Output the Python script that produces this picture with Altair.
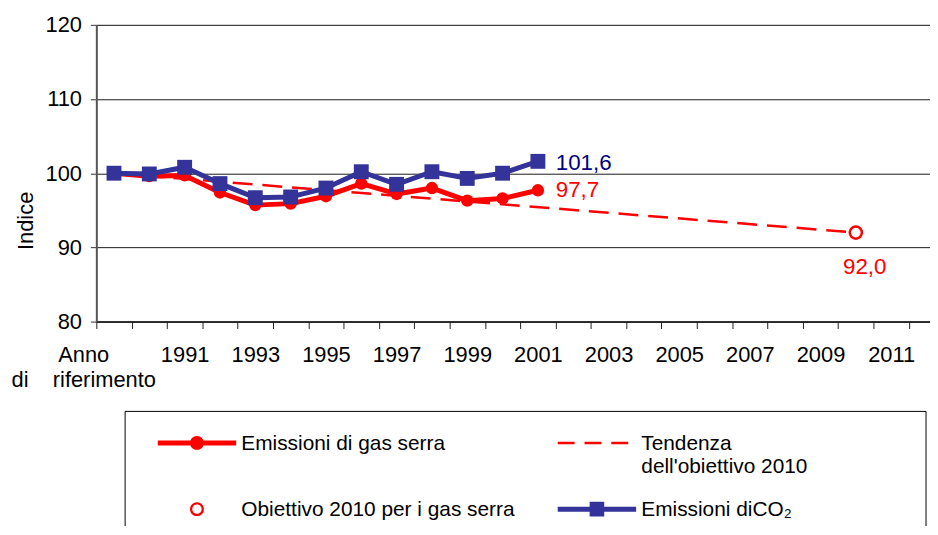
import json
import altair as alt
import pandas as pd

# ---------------- data ----------------
categories = ["base", "1990", "1991", "1992", "1993", "1994", "1995", "1996",
              "1997", "1998", "1999", "2000", "2001", "2002", "2003", "2004",
              "2005", "2006", "2007", "2008", "2009", "2010", "2011"]
tick_labels = ["Anno|di\u00a0\u00a0\u00a0\u00a0riferimento", "", "1991", "", "1993", "",
               "1995", "", "1997", "", "1999", "", "2001", "", "2003", "",
               "2005", "", "2007", "", "2009", "", "2011"]

emis_years = ["base", "1990", "1991", "1992", "1993", "1994", "1995", "1996",
              "1997", "1998", "1999", "2000", "2001"]
gas_values = [100.0, 99.6, 99.7, 97.4, 95.7, 95.9, 96.9, 98.6, 97.2, 98.0, 96.3, 96.6, 97.7]
co2_values = [100.0, 99.9, 100.8, 98.6, 96.7, 96.8, 98.0, 100.2, 98.5, 100.2, 99.3, 100.0, 101.6]

trend_years = ["base", "2010"]
trend_values = [100.0, 92.0]

target_years = ["2010"]
target_values = [92.0]

GAS = "Emissioni di gas serra"
TREND = "Tendenza|dell'obiettivo 2010"
TARGET = "Obiettivo 2010 per i gas serra"
CO2 = "Emissioni diCO\u2082"
# legend order (filled column by column: gas, target | trend, co2)
series_names = [GAS, TARGET, TREND, CO2]
series_colors = ["#FF0000", "#FF0000", "#FF0000", "#333399"]

ann_co2 = "101,6"
ann_gas = "97,7"
ann_target = "92,0"

gas_df = pd.DataFrame({"cat": emis_years, "value": gas_values, "series": GAS})
co2_df = pd.DataFrame({"cat": emis_years, "value": co2_values, "series": CO2})
trend_df = pd.DataFrame({"cat": trend_years, "value": trend_values, "series": TREND})
target_df = pd.DataFrame({"cat": target_years, "value": target_values, "series": TARGET})
# legend carrier rows (kept outside the y domain, clipped away)
legend_df = pd.DataFrame({"cat": ["base"] * 4, "value": [0.0] * 4, "series": series_names})

FONT = "Liberation Sans"


def q(v):
    return json.dumps(v)


x_label_expr = (f"indexof({q(categories)}, datum.value) < 0 ? '' : "
                f"split({q(tick_labels)}[indexof({q(categories)}, datum.value)], '|')")

x_enc = alt.X(
    "cat:O",
    scale=alt.Scale(domain=categories, paddingInner=0, paddingOuter=0.3, align=0),
    axis=alt.Axis(
        title=None, labelExpr=x_label_expr, labelAngle=0, tickBand="extent",
        tickSize=7, tickColor="#222222", tickWidth=1,
        domainColor="#111111", domainWidth=1.5,
        labelPadding=16, labelFontSize=22, labelLineHeight=25, labelBaseline="top",
        labelOverlap=False, labelBound=False, labelFont=FONT, labelColor="#000000",
        labelOffset={"condition": {"test": "datum.value == 'base'", "value": -31}, "value": 0},
        grid=False,
    ),
)

y_enc = alt.Y(
    "value:Q",
    scale=alt.Scale(domain=[80, 120], nice=False, zero=False),
    axis=alt.Axis(
        values=[80, 90, 100, 110, 120], title="Indice", grid=True,
        gridColor="#1a1a1a", gridWidth=1,
        domainColor="#555555", domainWidth=2,
        tickColor="#333333", tickSize=6, labelPadding=9,
        labelFontSize=22, labelFont=FONT, labelColor="#000000",
        titleFontSize=22, titleFont=FONT, titleFontWeight="normal", titleColor="#000000",
        titleAngle=270, titleX=-71, titleY=197, titleBaseline="middle", titleAlign="center",
    ),
)

color_scale = alt.Scale(domain=series_names, range=series_colors)

# legend symbols as filled outlines (unit = 10.5 px), shifted down to the first label line;
# the trailing zero-length segment in column-2 symbols widens the legend box
sym_paths = [
    # gas: thick line + dot
    "M-3.762,0.81H3.762V1.286H-3.762Z"
    "M-0.667,1.048A0.667,0.667,0,1,1,0.667,1.048A0.667,0.667,0,1,1,-0.667,1.048Z",
    # target: ring
    "M-0.667,1.048A0.667,0.667,0,1,1,0.667,1.048A0.667,0.667,0,1,1,-0.667,1.048Z"
    "M-0.448,1.048A0.448,0.448,0,1,0,0.448,1.048A0.448,0.448,0,1,0,-0.448,1.048Z",
    # trend: three dashes
    "M-3.762,0.929H-2.143V1.167H-3.762Z"
    "M-1.190,0.929H0.429V1.167H-1.190Z"
    "M1.381,0.929H3.0V1.167H1.381Z"
    "M30.5,1H30.5",
    # co2: thick line + square
    "M-3.762,0.81H3.762V1.286H-3.762Z"
    "M-0.7,0.348H0.7V1.748H-0.7Z"
    "M30.5,1H30.5",
]

legend = alt.Legend(
    title=None, orient="none", legendX=28.5, legendY=389,
    columns=2, columnPadding=20, rowPadding=11, padding=10.5,
    strokeColor="#000000", fillColor="#FFFFFF",
    labelFontSize=21, labelFont=FONT, labelColor="#000000",
    labelExpr=("indexof(datum.label, '|') >= 0 ? split(datum.label, '|') "
               ": [datum.label, '\u00a0']"),
    labelBaseline="line-top", labelLimit=0,
    symbolSize=441, symbolStrokeWidth=0, symbolOpacity=1,
    symbolOffset=51.9, labelOffset=34.2,
)

legend_layer = alt.Chart(legend_df).mark_point(clip=True, opacity=1, filled=True).encode(
    x=x_enc, y=y_enc,
    color=alt.Color("series:N", scale=color_scale, legend=legend),
    shape=alt.Shape("series:N", scale=alt.Scale(domain=series_names, range=sym_paths), legend=legend),
)


def color_enc():
    return alt.Color("series:N", scale=color_scale, legend=None)


trend_line = alt.Chart(trend_df).mark_line(
    strokeDash=[20, 10], strokeWidth=2.5
).encode(x=x_enc, y=y_enc, color=color_enc())

gas_line = alt.Chart(gas_df).mark_line(strokeWidth=5, strokeJoin="round").encode(
    x=x_enc, y=y_enc, color=color_enc())
gas_pts = alt.Chart(gas_df).mark_point(
    filled=True, shape="circle", size=155, opacity=1
).encode(x=x_enc, y=y_enc, color=color_enc())

co2_line = alt.Chart(co2_df).mark_line(strokeWidth=5, strokeJoin="round").encode(
    x=x_enc, y=y_enc, color=color_enc())
co2_pts = alt.Chart(co2_df).mark_point(
    filled=True, shape="square", size=225, opacity=1
).encode(x=x_enc, y=y_enc, color=color_enc())

target_pt = alt.Chart(target_df).mark_point(
    filled=False, shape="circle", size=150, strokeWidth=2.5, fill="#FFFFFF", opacity=1
).encode(x=x_enc, y=y_enc, color=color_enc())

co2_last = co2_df.tail(1).assign(label=ann_co2)
gas_last = gas_df.tail(1).assign(label=ann_gas)
target_lab = target_df.assign(label=ann_target)

co2_text = alt.Chart(co2_last).mark_text(
    align="left", baseline="middle", dx=18, dy=1.5, fontSize=22.5, font=FONT, color="#000080"
).encode(x=x_enc, y=y_enc, text="label:N")
gas_text = alt.Chart(gas_last).mark_text(
    align="left", baseline="middle", dx=18, dy=0, fontSize=22.5, font=FONT, color="#FF0000"
).encode(x=x_enc, y=y_enc, text="label:N")
target_text = alt.Chart(target_lab).mark_text(
    align="center", baseline="middle", dx=9, dy=35, fontSize=22.5, font=FONT, color="#FF0000"
).encode(x=x_enc, y=y_enc, text="label:N")

chart = alt.layer(
    legend_layer, trend_line, gas_line, gas_pts, co2_line, co2_pts, target_pt,
    co2_text, gas_text, target_text
).properties(
    width=840, height=299,
    autosize=alt.AutoSizeParams(type="none"),
    padding={"left": 89, "top": 15, "right": 0, "bottom": 204},
    background="#FFFFFF",
).configure_view(stroke=None).configure(font=FONT).configure_axisY(
    titleFontSize=22, titleFontWeight="normal"
)

chart.save("out.html", embed_options={"renderer": "svg", "actions": False})
